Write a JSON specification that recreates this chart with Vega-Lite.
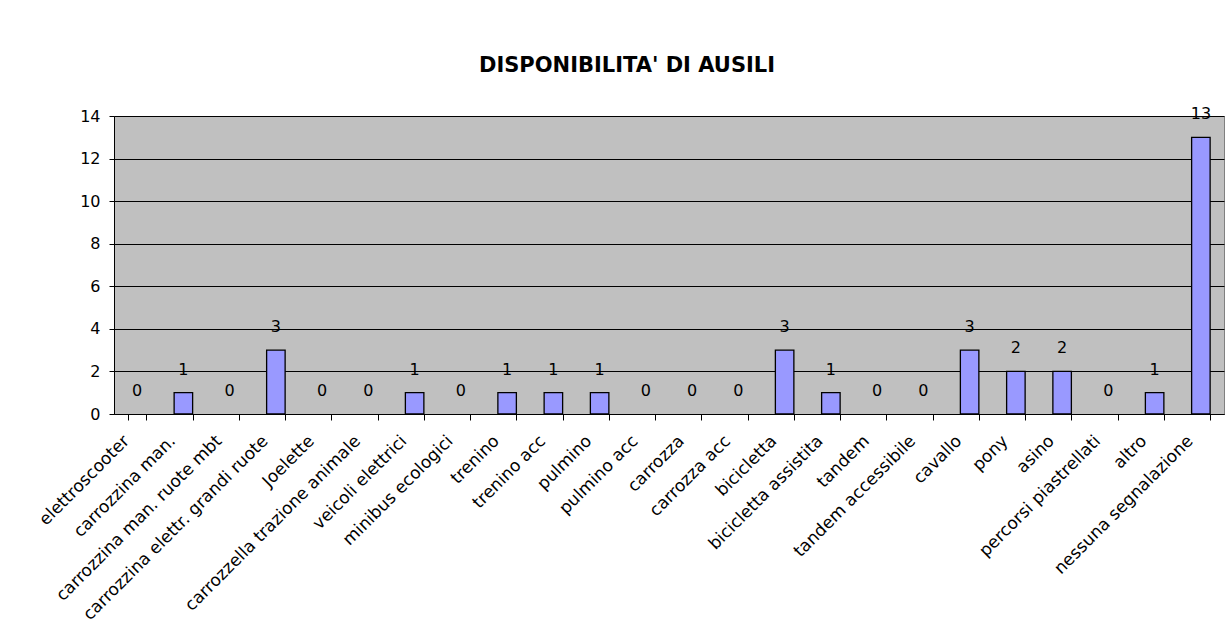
{
  "$schema": "https://vega.github.io/schema/vega-lite/v6.json",
  "width": 1110,
  "height": 298,
  "autosize": {"type": "none"},
  "padding": {"left": 114, "top": 116, "right": 4, "bottom": 228},
  "background": "white",
  "title": {
    "text": "DISPONIBILITA' DI AUSILI",
    "font": "DejaVu Sans",
    "fontSize": 21,
    "fontWeight": "bold",
    "color": "black",
    "anchor": "middle",
    "dx": -42,
    "offset": 30
  },
  "data": {
    "values": [
      {"ausilio": "elettroscooter", "n": 0},
      {"ausilio": "carrozzina man.", "n": 1},
      {"ausilio": "carrozzina man. ruote mbt", "n": 0},
      {"ausilio": "carrozzina elettr. grandi ruote", "n": 3},
      {"ausilio": "Joelette", "n": 0},
      {"ausilio": "carrozzella trazione animale", "n": 0},
      {"ausilio": "veicoli elettrici", "n": 1},
      {"ausilio": "minibus ecologici", "n": 0},
      {"ausilio": "trenino", "n": 1},
      {"ausilio": "trenino acc", "n": 1},
      {"ausilio": "pulmino", "n": 1},
      {"ausilio": "pulmino acc", "n": 0},
      {"ausilio": "carrozza", "n": 0},
      {"ausilio": "carrozza acc", "n": 0},
      {"ausilio": "bicicletta", "n": 3},
      {"ausilio": "bicicletta assistita", "n": 1},
      {"ausilio": "tandem", "n": 0},
      {"ausilio": "tandem accessibile", "n": 0},
      {"ausilio": "cavallo", "n": 3},
      {"ausilio": "pony", "n": 2},
      {"ausilio": "asino", "n": 2},
      {"ausilio": "percorsi piastrellati", "n": 0},
      {"ausilio": "altro", "n": 1},
      {"ausilio": "nessuna segnalazione", "n": 13}
    ]
  },
  "encoding": {
    "x": {
      "field": "ausilio",
      "type": "nominal",
      "sort": null,
      "scale": {
        "domain": ["elettroscooter", "carrozzina man.", "carrozzina man. ruote mbt", "carrozzina elettr. grandi ruote", "Joelette", "carrozzella trazione animale", "veicoli elettrici", "minibus ecologici", "trenino", "trenino acc", "pulmino", "pulmino acc", "carrozza", "carrozza acc", "bicicletta", "bicicletta assistita", "tandem", "tandem accessibile", "cavallo", "pony", "asino", "percorsi piastrellati", "altro", "nessuna segnalazione"],
        "paddingInner": 0.6,
        "paddingOuter": 0.3
      },
      "axis": {
        "title": null,
        "labelAngle": -45,
        "labelAlign": "right",
        "labelBaseline": "middle",
        "labelFont": "DejaVu Sans",
        "labelFontSize": 17,
        "labelColor": "black",
        "labelPadding": 18,
        "labelOffset": -11,
        "labelLimit": 0,
        "tickBand": "extent",
        "tickColor": "black",
        "tickSize": 6,
        "domainColor": "black",
        "labelOverlap": false
      }
    },
    "y": {
      "field": "n",
      "type": "quantitative",
      "scale": {"domain": [0, 14], "nice": false},
      "axis": {
        "title": null,
        "values": [0, 2, 4, 6, 8, 10, 12, 14],
        "labelFont": "DejaVu Sans",
        "labelFontSize": 16,
        "labelColor": "black",
        "labelPadding": 9,
        "tickColor": "black",
        "tickSize": 5,
        "domainColor": "black",
        "grid": true,
        "gridColor": "black",
        "gridWidth": 1,
        "gridOpacity": 1
      }
    }
  },
  "layer": [
    {
      "transform": [{"filter": "datum.n > 0"}],
      "mark": {"type": "bar", "color": "#9999FF", "stroke": "black", "strokeWidth": 1.3}
    },
    {
      "mark": {
        "type": "text",
        "baseline": "middle",
        "dy": -23,
        "font": "DejaVu Sans",
        "fontSize": 16,
        "color": "black"
      },
      "encoding": {"text": {"field": "n", "type": "quantitative"}}
    }
  ],
  "config": {
    "view": {"fill": "#C0C0C0", "stroke": "#808080", "strokeWidth": 1},
    "axis": {"domainWidth": 1, "tickWidth": 1}
  }
}
